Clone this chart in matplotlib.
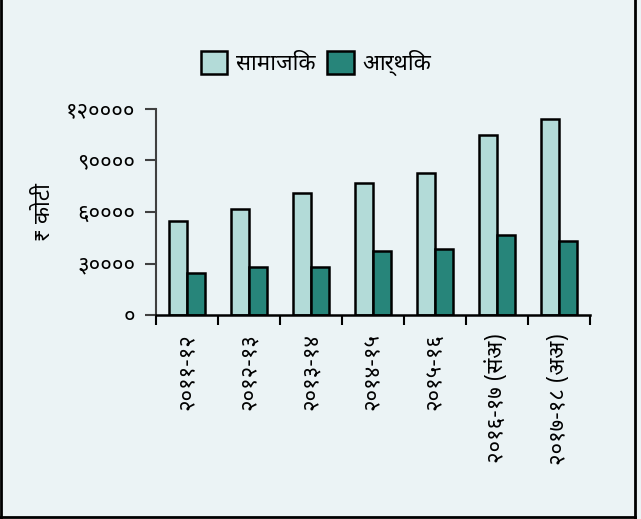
import matplotlib
matplotlib.use("Agg")
import matplotlib.pyplot as plt
from matplotlib import font_manager
from matplotlib.lines import Line2D
import numpy as np

# data (रु करोड)
years = ["२०११-१२", "२०१२-१३", "२०१३-१४", "२०१४-१५", "२०१५-१६",
         "२०१६-१७ (संअ)", "२०१७-१८ (अअ)"]
samajik = [55000, 61800, 70900, 77100, 82900, 105000, 114000]
arthik = [24600, 28100, 28100, 37300, 38400, 46600, 43300]
yticks = [0, 30000, 60000, 90000, 120000]
ytick_labels = ["०", "३००००", "६००००", "९००००", "१२००००"]

# pick an installed Devanagari font
installed = {f.name for f in font_manager.fontManager.ttflist}
deva = "DejaVu Sans"
for name in ["Noto Sans Devanagari", "Mukta", "Hind", "FreeSans", "Annapurna SIL"]:
    if name in installed:
        deva = name
        break
plt.rcParams["font.family"] = [deva, "DejaVu Sans"]

bg = "#ebf3f5"
c_soc = "#b3dbd8"
c_eco = "#27857a"

fig = plt.figure(figsize=(6.41, 5.19), dpi=100, facecolor=bg)
ax = fig.add_axes([156 / 641, 1 - 315 / 519, 434 / 641, 206 / 519])
ax.set_facecolor(bg)

x = np.arange(len(years))
w = 0.29
ax.bar(x - w / 2, samajik, w, color=c_soc, edgecolor="black", linewidth=1.8, label="सामाजिक")
ax.bar(x + w / 2, arthik, w, color=c_eco, edgecolor="black", linewidth=1.8, label="आर्थिक")

ax.set_xlim(-0.5, len(years) - 0.5)
ax.set_ylim(0, 120000)
ax.set_yticks(yticks)
ax.set_yticklabels(ytick_labels, fontsize=16)
ax.tick_params(axis="y", length=8, width=1.5, color="#404040", pad=7)

ax.set_xticks(x)
ax.set_xticklabels(years, rotation=90, fontsize=16, va="top")
ax.tick_params(axis="x", which="major", length=0, pad=13)
ax.set_xticks(np.arange(-0.5, len(years)), minor=True)
ax.tick_params(axis="x", which="minor", length=7, width=1.5, color="black")

ax.spines["top"].set_visible(False)
ax.spines["right"].set_visible(False)
ax.spines["left"].set_color("#404040")
ax.spines["left"].set_linewidth(1.5)
ax.spines["bottom"].set_linewidth(1.8)

ax.set_ylabel("₹ कोटी", fontsize=16, labelpad=8)

fig.legend(loc="center", bbox_to_anchor=(316 / 641, 1 - 63 / 519), ncol=2,
           frameon=False, fontsize=16, handlelength=1.2, handleheight=1.2,
           handletextpad=0.4, columnspacing=0.5)

# figure border (left, right, bottom)
for xs, ys in [([0.002, 0.002], [0, 1]), ([0.991, 0.991], [0, 1]), ([0, 0.991], [0.004, 0.004])]:
    fig.add_artist(Line2D(xs, ys, transform=fig.transFigure, color="black", linewidth=2))

fig.savefig("out.png", dpi=100, facecolor=bg)
